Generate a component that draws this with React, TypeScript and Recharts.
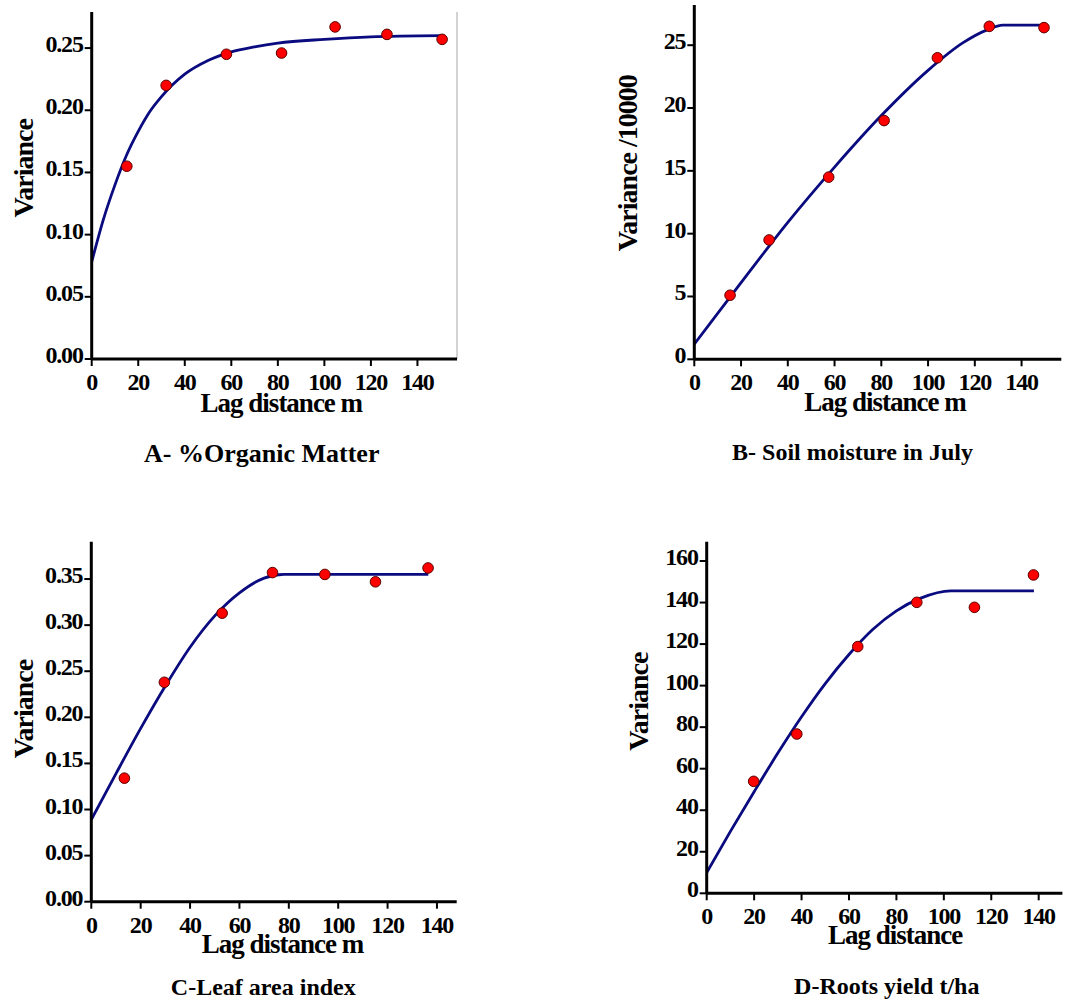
import React from 'react';
import { ComposedChart, Line, Scatter, XAxis, YAxis, ReferenceLine, Label } from 'recharts';

// A - % organic matter
const lagA = [15.1, 32.0, 57.9, 81.6, 104.6, 126.9, 150.6];
const varA = [0.155, 0.220, 0.245, 0.246, 0.267, 0.261, 0.257];
const fitLagA = [0, 5, 10, 15, 20, 25, 30, 40, 50, 60, 70, 80, 100, 120, 150];
const fitA = [0.078, 0.112, 0.140, 0.164, 0.183, 0.199, 0.211, 0.229, 0.240, 0.247, 0.251, 0.254, 0.257, 0.259, 0.260];

// B - soil moisture in July (variance / 10000)
const lagB = [15.3, 32.0, 57.5, 81.2, 104.0, 126.2, 149.6];
const varB = [5.1, 9.5, 14.5, 19.0, 24.0, 26.5, 26.4];
const fitLagB = [0, 20, 40, 60, 80, 100, 115, 125, 132, 150];
const fitB = [1.2, 6.1, 10.9, 15.3, 19.4, 23.0, 25.2, 26.2, 26.6, 26.6];

// C - leaf area index
const lagC = [13.4, 29.6, 53.0, 73.4, 94.6, 115.1, 136.4];
const varC = [0.134, 0.238, 0.313, 0.357, 0.355, 0.347, 0.362];
const fitLagC = [0, 10, 20, 30, 40, 50, 60, 70, 78, 100, 136.5];
const fitC = [0.089, 0.139, 0.188, 0.234, 0.276, 0.310, 0.335, 0.351, 0.355, 0.355, 0.355];

// D - roots yield t/ha
const lagD = [19.8, 38.0, 63.7, 88.6, 112.9, 137.8];
const varD = [53.9, 76.7, 118.8, 140.1, 137.7, 153.3];
const fitLagD = [0, 10, 20, 30, 40, 50, 60, 70, 80, 90, 103, 138];
const fitD = [10, 29.8, 48.9, 67.5, 85, 101, 115, 127, 136, 142, 145.6, 145.6];

const lagTicks = [0, 20, 40, 60, 80, 100, 120, 140];
const ticksA = [0, 0.05, 0.1, 0.15, 0.2, 0.25];
const ticksB = [0, 5, 10, 15, 20, 25];
const ticksC = [0, 0.05, 0.1, 0.15, 0.2, 0.25, 0.3, 0.35];
const ticksD = [0, 20, 40, 60, 80, 100, 120, 140, 160];

const toPoints = (xs: number[], ys: number[]) => xs.map((x, i) => ({ x, y: ys[i] }));

const FONT = '"Liberation Serif", "Times New Roman", serif';
const Y_W = 60;
const X_H = 60;

const tickStyle: React.CSSProperties = {
  fontFamily: FONT,
  fontWeight: 'bold',
  fontSize: 24,
  letterSpacing: -1.2,
};

interface PanelProps {
  left: number;
  top: number;
  width: number;
  height: number;
  margin: { top: number; right: number; bottom: number; left: number };
  xMax: number;
  yMax: number;
  yTicks: number[];
  decimals: number;
  points: { x: number; y: number }[];
  fit: { x: number; y: number }[];
  yLabel: string;
  xLabel: string;
  title: string;
  titleSize: number;
  yLabelDx: number;
  yLabelDy: number;
  xLabelDx: number;
  xLabelDy: number;
  titleDx: number;
  titleDy: number;
  border?: boolean;
}

const Panel: React.FC<PanelProps> = (p) => {
  const plotLeft = p.margin.left + Y_W;
  const plotRight = p.width - p.margin.right;
  const plotTop = p.margin.top;
  const plotBottom = p.height - p.margin.bottom - X_H;
  const midX = (plotLeft + plotRight) / 2;
  const midY = (plotTop + plotBottom) / 2;

  const XTick = (t: any) => (
    <text x={t.x} y={t.y + 24} textAnchor="middle" fill="#000" style={tickStyle}>
      {t.payload.value}
    </text>
  );
  const YTick = (t: any) => (
    <text x={t.x} y={t.y + 4} textAnchor="end" fill="#000" style={tickStyle}>
      {Number(t.payload.value).toFixed(p.decimals)}
    </text>
  );

  const yLabelX = plotLeft + p.yLabelDx;
  const yLabelY = midY + p.yLabelDy;

  return (
    <div style={{ position: 'absolute', left: p.left, top: p.top }}>
      <ComposedChart width={p.width} height={p.height} margin={p.margin}>
        <XAxis
          dataKey="x"
          type="number"
          domain={[0, p.xMax]}
          ticks={lagTicks}
          allowDataOverflow
          height={X_H}
          tickSize={7}
          tickMargin={0}
          axisLine={{ stroke: '#000', strokeWidth: 3 }}
          tickLine={{ stroke: '#000', strokeWidth: 2 }}
          tick={XTick}
        >
          <Label
            content={() => (
              <g>
                <text
                  x={midX + p.xLabelDx}
                  y={plotBottom + p.xLabelDy}
                  textAnchor="middle"
                  fill="#000"
                  style={{ fontFamily: FONT, fontWeight: 'bold', fontSize: 27, letterSpacing: -1 }}
                >
                  {p.xLabel}
                </text>
                <text
                  x={midX + p.titleDx}
                  y={plotBottom + p.titleDy}
                  textAnchor="middle"
                  fill="#000"
                  style={{ fontFamily: FONT, fontWeight: 'bold', fontSize: p.titleSize }}
                >
                  {p.title}
                </text>
              </g>
            )}
          />
        </XAxis>
        <YAxis
          dataKey="y"
          type="number"
          domain={[0, p.yMax]}
          ticks={p.yTicks}
          allowDataOverflow
          width={Y_W}
          tickSize={7}
          tickMargin={2}
          axisLine={{ stroke: '#000', strokeWidth: 3 }}
          tickLine={{ stroke: '#000', strokeWidth: 2 }}
          tick={YTick}
        >
          <Label
            content={() => (
              <text
                x={yLabelX}
                y={yLabelY}
                transform={`rotate(-90, ${yLabelX}, ${yLabelY})`}
                textAnchor="middle"
                fill="#000"
                style={{ fontFamily: FONT, fontWeight: 'bold', fontSize: 28, letterSpacing: -1 }}
              >
                {p.yLabel}
              </text>
            )}
          />
        </YAxis>
        {p.border && <ReferenceLine x={p.xMax} stroke="#c4c4c4" strokeWidth={1.5} />}
        <Line
          data={p.fit}
          dataKey="y"
          type="monotone"
          stroke="#0b0b80"
          strokeWidth={2.8}
          dot={false}
          activeDot={false}
          isAnimationActive={false}
        />
        <Scatter
          data={p.points}
          dataKey="y"
          isAnimationActive={false}
          shape={(s: any) => (
            <circle cx={s.cx} cy={s.cy} r={5.3} fill="#ff0000" stroke="#5a0000" strokeWidth={1} />
          )}
        />
      </ComposedChart>
    </div>
  );
};

export default function App() {
  return (
    <div style={{ position: 'absolute', left: 0, top: 0, width: 1065, height: 1000, background: '#fff' }}>
      <Panel
        left={0}
        top={0}
        width={470}
        height={470}
        margin={{ top: 12, right: 13, bottom: 51, left: 31.7 }}
        xMax={157}
        yMax={0.279}
        yTicks={ticksA}
        decimals={2}
        points={toPoints(lagA, varA)}
        fit={toPoints(fitLagA, fitA)}
        yLabel="Variance"
        xLabel="Lag distance m"
        title="A- %Organic Matter"
        titleSize={26}
        yLabelDx={-58.4}
        yLabelDy={-17.2}
        xLabelDx={7}
        xLabelDy={52.7}
        titleDx={-12.6}
        titleDy={102.7}
        border
      />
      <Panel
        left={590}
        top={0}
        width={475}
        height={470}
        margin={{ top: 5, right: 3.7, bottom: 50.7, left: 44.3 }}
        xMax={157}
        yMax={28.2}
        yTicks={ticksB}
        decimals={0}
        points={toPoints(lagB, varB)}
        fit={toPoints(fitLagB, fitB)}
        yLabel="Variance /10000"
        xLabel="Lag distance m"
        title="B- Soil moisture in July"
        titleSize={24}
        yLabelDx={-57.6}
        yLabelDy={-18.9}
        xLabelDx={7.2}
        xLabelDy={51.4}
        titleDx={-25.3}
        titleDy={100.7}
      />
      <Panel
        left={0}
        top={530}
        width={470}
        height={470}
        margin={{ top: 11.7, right: 13.3, bottom: 38.3, left: 31.3 }}
        xMax={148}
        yMax={0.3905}
        yTicks={ticksC}
        decimals={2}
        points={toPoints(lagC, varC)}
        fit={toPoints(fitLagC, fitC)}
        yLabel="Variance"
        xLabel="Lag distance m"
        title="C-Leaf area index"
        titleSize={24}
        yLabelDx={-58}
        yLabelDy={-12.7}
        xLabelDx={8.5}
        xLabelDy={51}
        titleDx={-10.7}
        titleDy={93.3}
      />
      <Panel
        left={590}
        top={530}
        width={475}
        height={470}
        margin={{ top: 11.7, right: 2.6, bottom: 46.7, left: 56.7 }}
        xMax={150}
        yMax={169.3}
        yTicks={ticksD}
        decimals={0}
        points={toPoints(lagD, varD)}
        fit={toPoints(fitLagD, fitD)}
        yLabel="Variance"
        xLabel="Lag distance"
        title="D-Roots yield t/ha"
        titleSize={24}
        yLabelDx={-58.7}
        yLabelDy={-15.8}
        xLabelDx={10.5}
        xLabelDy={51}
        titleDx={2.2}
        titleDy={101}
      />
    </div>
  );
}
